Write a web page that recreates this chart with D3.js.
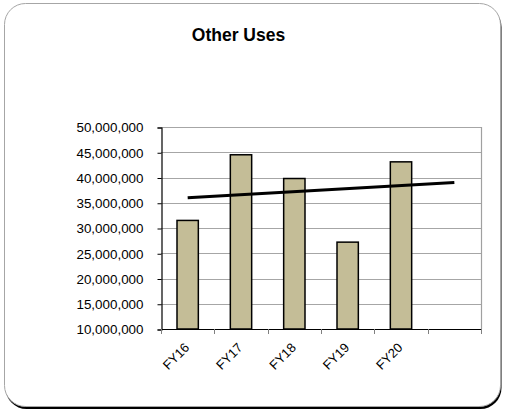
<!DOCTYPE html>
<html>
<head>
<meta charset="utf-8">
<script src="https://cdn.jsdelivr.net/npm/d3@7"></script>
<style>
  html, body { margin: 0; padding: 0; background: #ffffff; }
  svg { display: block; font-family: Arial, "Liberation Sans", sans-serif; }
</style>
</head>
<body>
<svg id="chart" width="506" height="411"></svg>
<script>
// Fiscal years and spending on other uses
const categories = ["FY16", "FY17", "FY18", "FY19", "FY20"];
const values = [31500000, 44500000, 39800000, 27200000, 43100000];
// Extra slot on the category axis that the trend line runs into
const forecastSlots = [""];
// Linear trend: value at FY16 and at the forecast slot
const trendPeriods = ["FY16", ""];
const trendValues = [36000000, 39000000];
const yTicks = [10000000, 15000000, 20000000, 25000000, 30000000, 35000000, 40000000, 45000000, 50000000];
const title = "Other Uses";

const svg = d3.select("#chart");
const plot = { left: 161, right: 481, top: 127, bottom: 329 };

// Card with drop shadow
svg.append("rect")
  .attr("x", 5.5).attr("y", 6).attr("width", 496).attr("height", 403)
  .attr("rx", 21).attr("fill", "#000");
svg.append("rect")
  .attr("x", 4.5).attr("y", 3.5).attr("width", 496).attr("height", 403)
  .attr("rx", 21).attr("fill", "#fff").attr("stroke", "#a6a6a6").attr("stroke-width", 1);

svg.append("text")
  .attr("x", 238.5).attr("y", 40.5)
  .attr("text-anchor", "middle")
  .attr("font-weight", "bold").attr("font-size", 17.5)
  .attr("fill", "#000")
  .text(title);

const x = d3.scaleBand()
  .domain(categories.concat(forecastSlots))
  .range([plot.left, plot.right])
  .padding(0);

const y = d3.scaleLinear()
  .domain([10000000, 50000000])
  .range([plot.bottom, plot.top]);

// Horizontal gridlines
svg.append("g").selectAll("line")
  .data(yTicks.slice(1))
  .join("line")
  .attr("x1", plot.left).attr("x2", plot.right)
  .attr("y1", d => Math.round(y(d)) + 0.5).attr("y2", d => Math.round(y(d)) + 0.5)
  .attr("stroke", "#a6a6a6").attr("stroke-width", 1);

// Right border of the plot area
svg.append("line")
  .attr("x1", plot.right + 0.5).attr("x2", plot.right + 0.5)
  .attr("y1", plot.top).attr("y2", plot.bottom)
  .attr("stroke", "#a0a0a0").attr("stroke-width", 1.2);

// Bars
const bw = x.step() * 0.4;
svg.append("g").selectAll("rect")
  .data(categories.map((c, i) => ({ c, v: values[i] })))
  .join("rect")
  .attr("x", d => x(d.c) + x.bandwidth() / 2 - bw / 2)
  .attr("y", d => y(d.v))
  .attr("width", bw)
  .attr("height", d => y(10000000) - y(d.v))
  .attr("fill", "#c4bd97")
  .attr("stroke", "#000").attr("stroke-width", 1.5);

// Y axis
const yAxis = d3.axisLeft(y)
  .tickValues(yTicks)
  .tickSize(4)
  .tickPadding(14)
  .tickFormat(d3.format(","));
const gy = svg.append("g")
  .attr("transform", `translate(${plot.left + 0.5},0.5)`)
  .call(yAxis);
gy.select(".domain").attr("stroke", "#000").attr("stroke-width", 1.2);
gy.selectAll(".tick line").attr("stroke", "#000");
gy.selectAll(".tick text")
  .attr("font-size", 13.4).attr("fill", "#000")
  .attr("font-family", "Arial, 'Liberation Sans', sans-serif");

// X axis: line, boundary ticks and rotated labels
const gx = svg.append("g");
gx.append("line")
  .attr("x1", plot.left).attr("x2", plot.right + 1)
  .attr("y1", plot.bottom + 0.5).attr("y2", plot.bottom + 0.5)
  .attr("stroke", "#000").attr("stroke-width", 1.2);
const bounds = x.domain().map(c => x(c)).concat([plot.right]);
gx.selectAll("line.tk")
  .data(bounds)
  .join("line")
  .attr("class", "tk")
  .attr("x1", d => Math.round(d) + 0.5).attr("x2", d => Math.round(d) + 0.5)
  .attr("y1", plot.bottom).attr("y2", plot.bottom + 5)
  .attr("stroke", "#808080");
gx.selectAll("text")
  .data(categories)
  .join("text")
  .attr("transform", d => `translate(${x(d) + x.bandwidth() / 2 - 4},${plot.bottom + 13}) rotate(-45)`)
  .attr("text-anchor", "end")
  .attr("dy", "0.7em")
  .attr("font-size", 13)
  .attr("fill", "#000")
  .text(d => d);

// Trend line
const line = d3.line()
  .x(d => x(d.p) + x.bandwidth() / 2)
  .y(d => y(d.v));
svg.append("path")
  .datum(trendPeriods.map((p, i) => ({ p, v: trendValues[i] })))
  .attr("d", line)
  .attr("fill", "none")
  .attr("stroke", "#000")
  .attr("stroke-width", 3);
</script>
</body>
</html>
